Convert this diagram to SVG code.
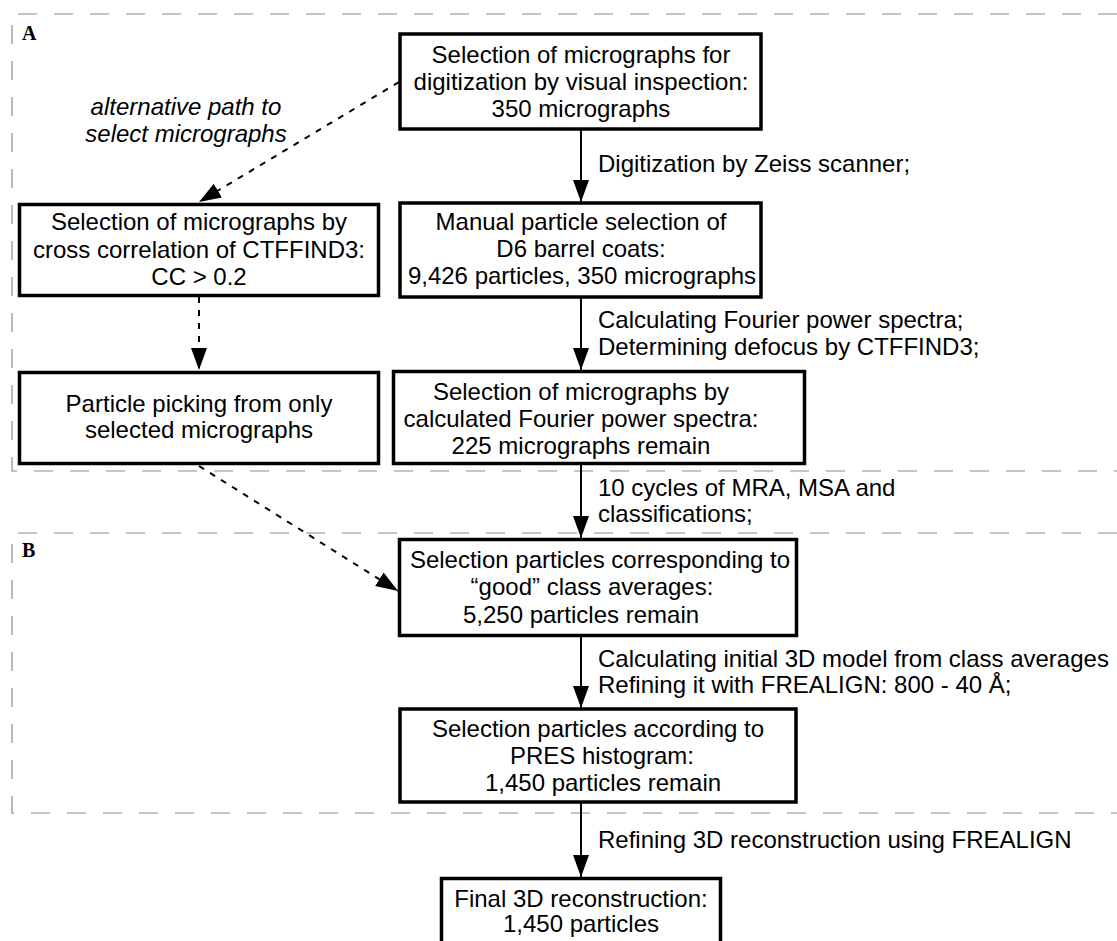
<svg xmlns="http://www.w3.org/2000/svg" width="1117" height="941" viewBox="0 0 1117 941">
<defs>
<style>
.t{font-family:"Liberation Sans",Arial,sans-serif;font-size:24px;fill:#000}
.c{text-anchor:middle}
.i{font-style:italic}
.box{fill:#fff;stroke:#000;stroke-width:3.5}
.region{fill:none;stroke:#8c8c8c;stroke-width:1.2;stroke-dasharray:19 17}
.lab{font-family:"Liberation Serif","Times New Roman",serif;font-weight:bold;font-size:20px;fill:#000}
.solid{stroke:#000;stroke-width:2;fill:none}
.dash{stroke:#000;stroke-width:2;fill:none;stroke-dasharray:6 7}
</style>
<marker id="ah" markerUnits="userSpaceOnUse" markerWidth="22" markerHeight="16" refX="22" refY="8" orient="auto" viewBox="0 0 22 16">
<path d="M0,0 L22,8 L0,16 Z" fill="#000"/>
</marker>
</defs>
<rect width="1117" height="941" fill="#fff"/>
<g id="regions">
<path class="region" d="M1117,14 H12 V471 H1117"/>
<path class="region" d="M1117,533 H12 V813 H1117"/>
<text class="lab" x="22" y="40">A</text>
<text class="lab" x="22" y="557">B</text>
</g>
<g id="connectors">
<line class="solid" x1="581" y1="130" x2="581" y2="202" marker-end="url(#ah)"/>
<line class="solid" x1="581" y1="298" x2="581" y2="370" marker-end="url(#ah)"/>
<line class="solid" x1="581" y1="465" x2="581" y2="538" marker-end="url(#ah)"/>
<line class="solid" x1="581" y1="637" x2="581" y2="708" marker-end="url(#ah)"/>
<line class="solid" x1="581" y1="803" x2="581" y2="877" marker-end="url(#ah)"/>
<line class="dash" x1="399" y1="82" x2="199" y2="202" marker-end="url(#ah)"/>
<line class="dash" x1="199" y1="297" x2="199" y2="370" marker-end="url(#ah)"/>
<line class="dash" x1="199" y1="466" x2="398" y2="591" marker-end="url(#ah)"/>
<text class="t" x="598" y="172">Digitization by Zeiss scanner;</text>
<text class="t" x="598" y="328">Calculating Fourier power spectra;</text>
<text class="t" x="598" y="355">Determining defocus by CTFFIND3;</text>
<text class="t" x="598" y="496">10 cycles of MRA, MSA and</text>
<text class="t" x="598" y="522">classifications;</text>
<text class="t" x="598" y="667">Calculating initial 3D model from class averages</text>
<text class="t" x="598" y="693">Refining it with FREALIGN: 800 - 40 Å;</text>
<text class="t" x="598" y="848">Refining 3D reconstruction using FREALIGN</text>
<text class="t c i" x="186" y="115">alternative path to</text>
<text class="t c i" x="186" y="142">select micrographs</text>
</g>
<g id="n1">
<rect class="box" x="400" y="34" width="361" height="95"/>
<text class="t c" x="581" y="63">Selection of micrographs for</text>
<text class="t c" x="581" y="90">digitization by visual inspection:</text>
<text class="t c" x="581" y="117">350 micrographs</text>
</g>
<g id="n2">
<rect class="box" x="400" y="203" width="361" height="94"/>
<text class="t c" x="581" y="230">Manual particle selection of</text>
<text class="t c" x="581" y="257">D6 barrel coats:</text>
<text class="t c" x="582" y="284">9,426 particles, 350 micrographs</text>
</g>
<g id="n3">
<rect class="box" x="393.5" y="371.5" width="411" height="92"/>
<text class="t c" x="581" y="400">Selection of micrographs by</text>
<text class="t c" x="581" y="427">calculated Fourier power spectra:</text>
<text class="t c" x="581" y="454">225 micrographs remain</text>
</g>
<g id="n4">
<rect class="box" x="399.5" y="539.5" width="397" height="96"/>
<text class="t c" x="600" y="568">Selection particles corresponding to</text>
<text class="t c" x="592" y="595">“good” class averages:</text>
<text class="t c" x="581" y="623">5,250 particles remain</text>
</g>
<g id="n5">
<rect class="box" x="400" y="709" width="396" height="93"/>
<text class="t c" x="598" y="737">Selection particles according to</text>
<text class="t c" x="602" y="764">PRES histogram:</text>
<text class="t c" x="603" y="791">1,450 particles remain</text>
</g>
<g id="n6">
<rect class="box" x="441.5" y="878.5" width="279" height="90"/>
<text class="t c" x="581" y="907">Final 3D reconstruction:</text>
<text class="t c" x="581" y="932">1,450 particles</text>
</g>
<g id="l1">
<rect class="box" x="19.5" y="204.5" width="359" height="91"/>
<text class="t c" x="199" y="230">Selection of micrographs by</text>
<text class="t c" x="199" y="258">cross correlation of CTFFIND3:</text>
<text class="t c" x="199" y="285">CC &gt; 0.2</text>
</g>
<g id="l2">
<rect class="box" x="19.5" y="372.5" width="359" height="91"/>
<text class="t c" x="199" y="412">Particle picking from only</text>
<text class="t c" x="199" y="438">selected micrographs</text>
</g>
</svg>
